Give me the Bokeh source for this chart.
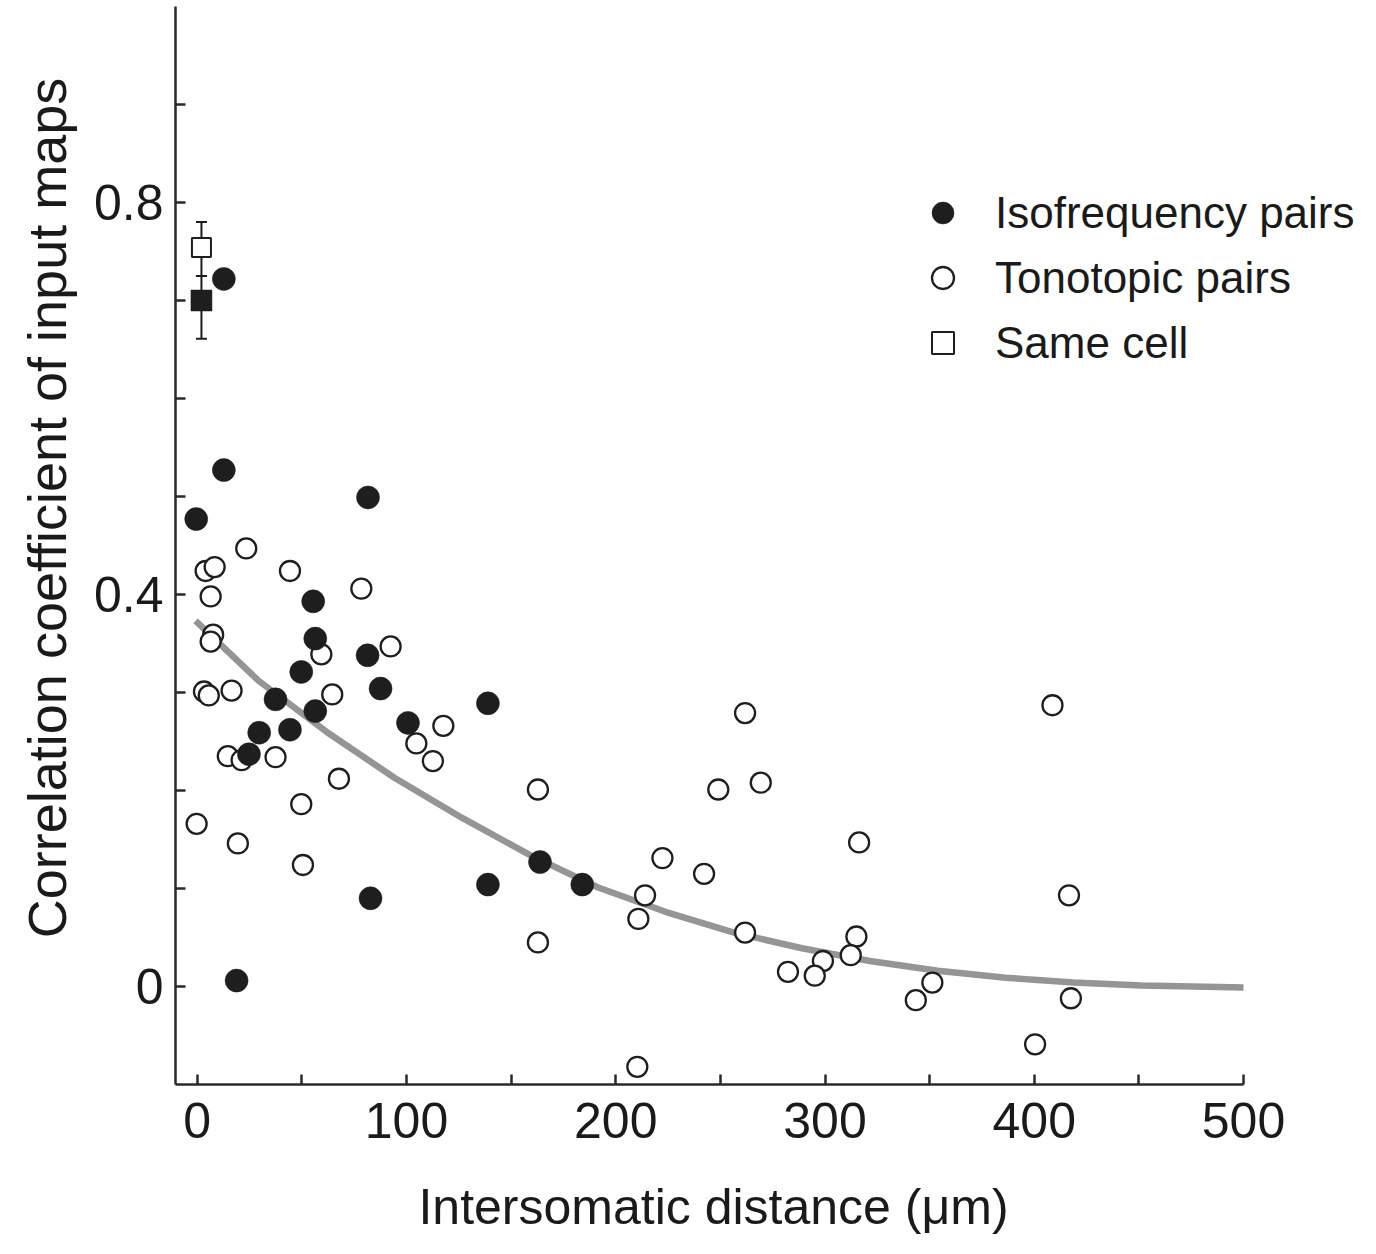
from bokeh.plotting import figure
from bokeh.models import (Range1d, FixedTicker, Whisker, TeeHead, ColumnDataSource,
                          Legend, LegendItem, Title)
from bokeh.embed import file_html
from bokeh.resources import INLINE

# ---- data ----
iso_x = [12.7, 12.7, -0.5, 81.6, 55.4, 56.4, 49.7, 81.4, 87.6, 37.4, 56.4,
         138.9, 100.7, 29.6, 44.3, 24.7, 18.8, 82.8, 138.9, 163.8, 184.0]
iso_y = [0.722, 0.527, 0.477, 0.499, 0.393, 0.355, 0.321, 0.338, 0.304, 0.293, 0.281,
         0.289, 0.269, 0.259, 0.262, 0.237, 0.006, 0.090, 0.104, 0.127, 0.104]

tono_x = [23.4, 4.0, 8.3, 44.3, 6.4, 78.4, 7.6, 6.4, 59.3, 92.4, 3.2, 5.5, 16.4, 64.5,
          117.6, 104.7, 112.6, 14.6, 21.2, 37.4, 67.7, 49.7, -0.3, 19.4, 50.5,
          162.8, 162.8, 210.3, 261.8, 249.0, 269.3, 316.3, 222.3, 242.2, 214.0, 210.8,
          261.8, 315.0, 312.3, 299.0, 295.1, 282.3, 351.3, 343.4, 408.7, 416.6, 417.5, 400.4]
tono_y = [0.447, 0.424, 0.428, 0.424, 0.398, 0.406, 0.359, 0.352, 0.339, 0.347, 0.301, 0.297, 0.302, 0.298,
          0.266, 0.248, 0.230, 0.235, 0.231, 0.234, 0.212, 0.186, 0.166, 0.146, 0.124,
          0.201, 0.045, -0.082, 0.279, 0.201, 0.208, 0.147, 0.131, 0.115, 0.093, 0.069,
          0.055, 0.051, 0.032, 0.026, 0.011, 0.015, 0.004, -0.014, 0.287, 0.093, -0.012, -0.059]

same_x = [2.0, 2.0]
same_y = [0.754, 0.700]
same_lo = [0.725, 0.661]
same_hi = [0.780, 0.725]

fit_x = [-0.8, 29.3, 61.7, 94.2, 126.6, 159.1, 191.6, 224.1, 256.5, 289.0, 321.4,
         353.9, 386.4, 418.8, 451.3, 500.0]
fit_y = [0.373, 0.312, 0.260, 0.213, 0.172, 0.134, 0.101, 0.076, 0.055, 0.039, 0.026,
         0.016, 0.009, 0.004, 0.001, -0.001]

x_ticks = [0, 50, 100, 150, 200, 250, 300, 350, 400, 450, 500]
x_labels = {0: "0", 100: "100", 200: "200", 300: "300", 400: "400", 500: "500",
            50: "", 150: "", 250: "", 350: "", 450: ""}
y_ticks = [0, 0.1, 0.2, 0.3, 0.4, 0.5, 0.6, 0.7, 0.8, 0.9]
y_labels = {0: "0", 0.4: "0.4", 0.8: "0.8", 0.1: "", 0.2: "", 0.3: "", 0.5: "",
            0.6: "", 0.7: "", 0.9: ""}

FONT = "Liberation Sans"
INK = "#1e1e1e"
NBSP = "\u00a0"

X_START, X_AXIS_END = -10.4, 500.0
PX_PER_UNIT = 2.0925
LEFT_BORDER, WIDTH = 175, 1376
x_view_end = X_START + (WIDTH - LEFT_BORDER) / PX_PER_UNIT

p = figure(width=WIDTH, height=1254, output_backend="svg", toolbar_location=None,
           x_range=Range1d(X_START, x_view_end), y_range=Range1d(-0.1, 1.0),
           min_border_left=LEFT_BORDER, min_border_right=0, min_border_top=6,
           min_border_bottom=170)
p.outline_line_color = None
p.xgrid.visible = False
p.ygrid.visible = False
p.background_fill_color = "white"

for ax, ticks, labels in ((p.xaxis, x_ticks, x_labels), (p.yaxis, y_ticks, y_labels)):
    ax.ticker = FixedTicker(ticks=ticks, minor_ticks=[])
    ax.major_label_overrides = labels
    ax.major_tick_in = 10
    ax.major_tick_out = 0
    ax.minor_tick_in = 0
    ax.minor_tick_out = 0
    ax.axis_line_width = 2.5
    ax.axis_line_color = "#2a2a2a"
    ax.major_tick_line_width = 2.5
    ax.major_tick_line_color = "#2a2a2a"
    ax.major_label_text_font = FONT
    ax.major_label_text_font_size = "50px"
    ax.major_label_text_color = "#1a1a1a"

p.xaxis.bounds = (X_START, X_AXIS_END)
p.yaxis.major_label_standoff = 12
p.xaxis.major_label_standoff = 18
# trailing no-break spaces keep the label centred under the axis (not the wider frame)
p.xaxis.axis_label = "Intersomatic distance (\u03bcm)" + NBSP * 9
p.xaxis.axis_label_text_font = FONT
p.xaxis.axis_label_text_font_size = "50px"
p.xaxis.axis_label_text_font_style = "normal"
p.xaxis.axis_label_text_color = "#1a1a1a"
p.xaxis.axis_label_standoff = 38

ytitle = Title(text=NBSP * 5 + "Correlation coefficient of input maps", align="center",
               text_font=FONT, text_font_size="54px", text_font_style="normal",
               text_color="#1a1a1a", standoff=28)
p.add_layout(ytitle, "left")

# fit curve
p.line(fit_x, fit_y, line_color="#959595", line_width=6.5)

# same-cell error bars
src_same = ColumnDataSource(dict(x=same_x, y=same_y, lo=same_lo, hi=same_hi))
wh = Whisker(base="x", upper="hi", lower="lo", source=src_same, dimension="height",
             line_width=2, line_color=INK, level="underlay",
             upper_head=TeeHead(size=11, line_width=2, line_color=INK),
             lower_head=TeeHead(size=11, line_width=2, line_color=INK))
p.add_layout(wh)

r_tono = p.scatter(tono_x, tono_y, marker="circle", size=20, fill_color="white",
                   line_color=INK, line_width=2.3)
r_iso = p.scatter(iso_x, iso_y, marker="circle", size=23, fill_color=INK, line_color=INK,
                  line_width=0.5)
r_same_filled = p.scatter([same_x[1]], [same_y[1]], marker="square", size=21,
                          fill_color=INK, line_color=INK, line_width=0.5)
r_same_open = p.scatter([same_x[0]], [same_y[0]], marker="square", size=19,
                        fill_color="white", line_color=INK, line_width=2)

legend = Legend(items=[LegendItem(label="Isofrequency pairs", renderers=[r_iso]),
                       LegendItem(label="Tonotopic pairs", renderers=[r_tono]),
                       LegendItem(label="Same cell", renderers=[r_same_open])],
                location=(740, 714), orientation="vertical",
                glyph_width=55, glyph_height=55, label_height=55, spacing=10,
                padding=0, margin=0, label_standoff=25,
                label_text_font=FONT, label_text_font_size="44px",
                label_text_color="#1a1a1a",
                border_line_color=None, background_fill_alpha=0)
p.add_layout(legend)

open("out.html", "w").write(file_html(p, INLINE))
